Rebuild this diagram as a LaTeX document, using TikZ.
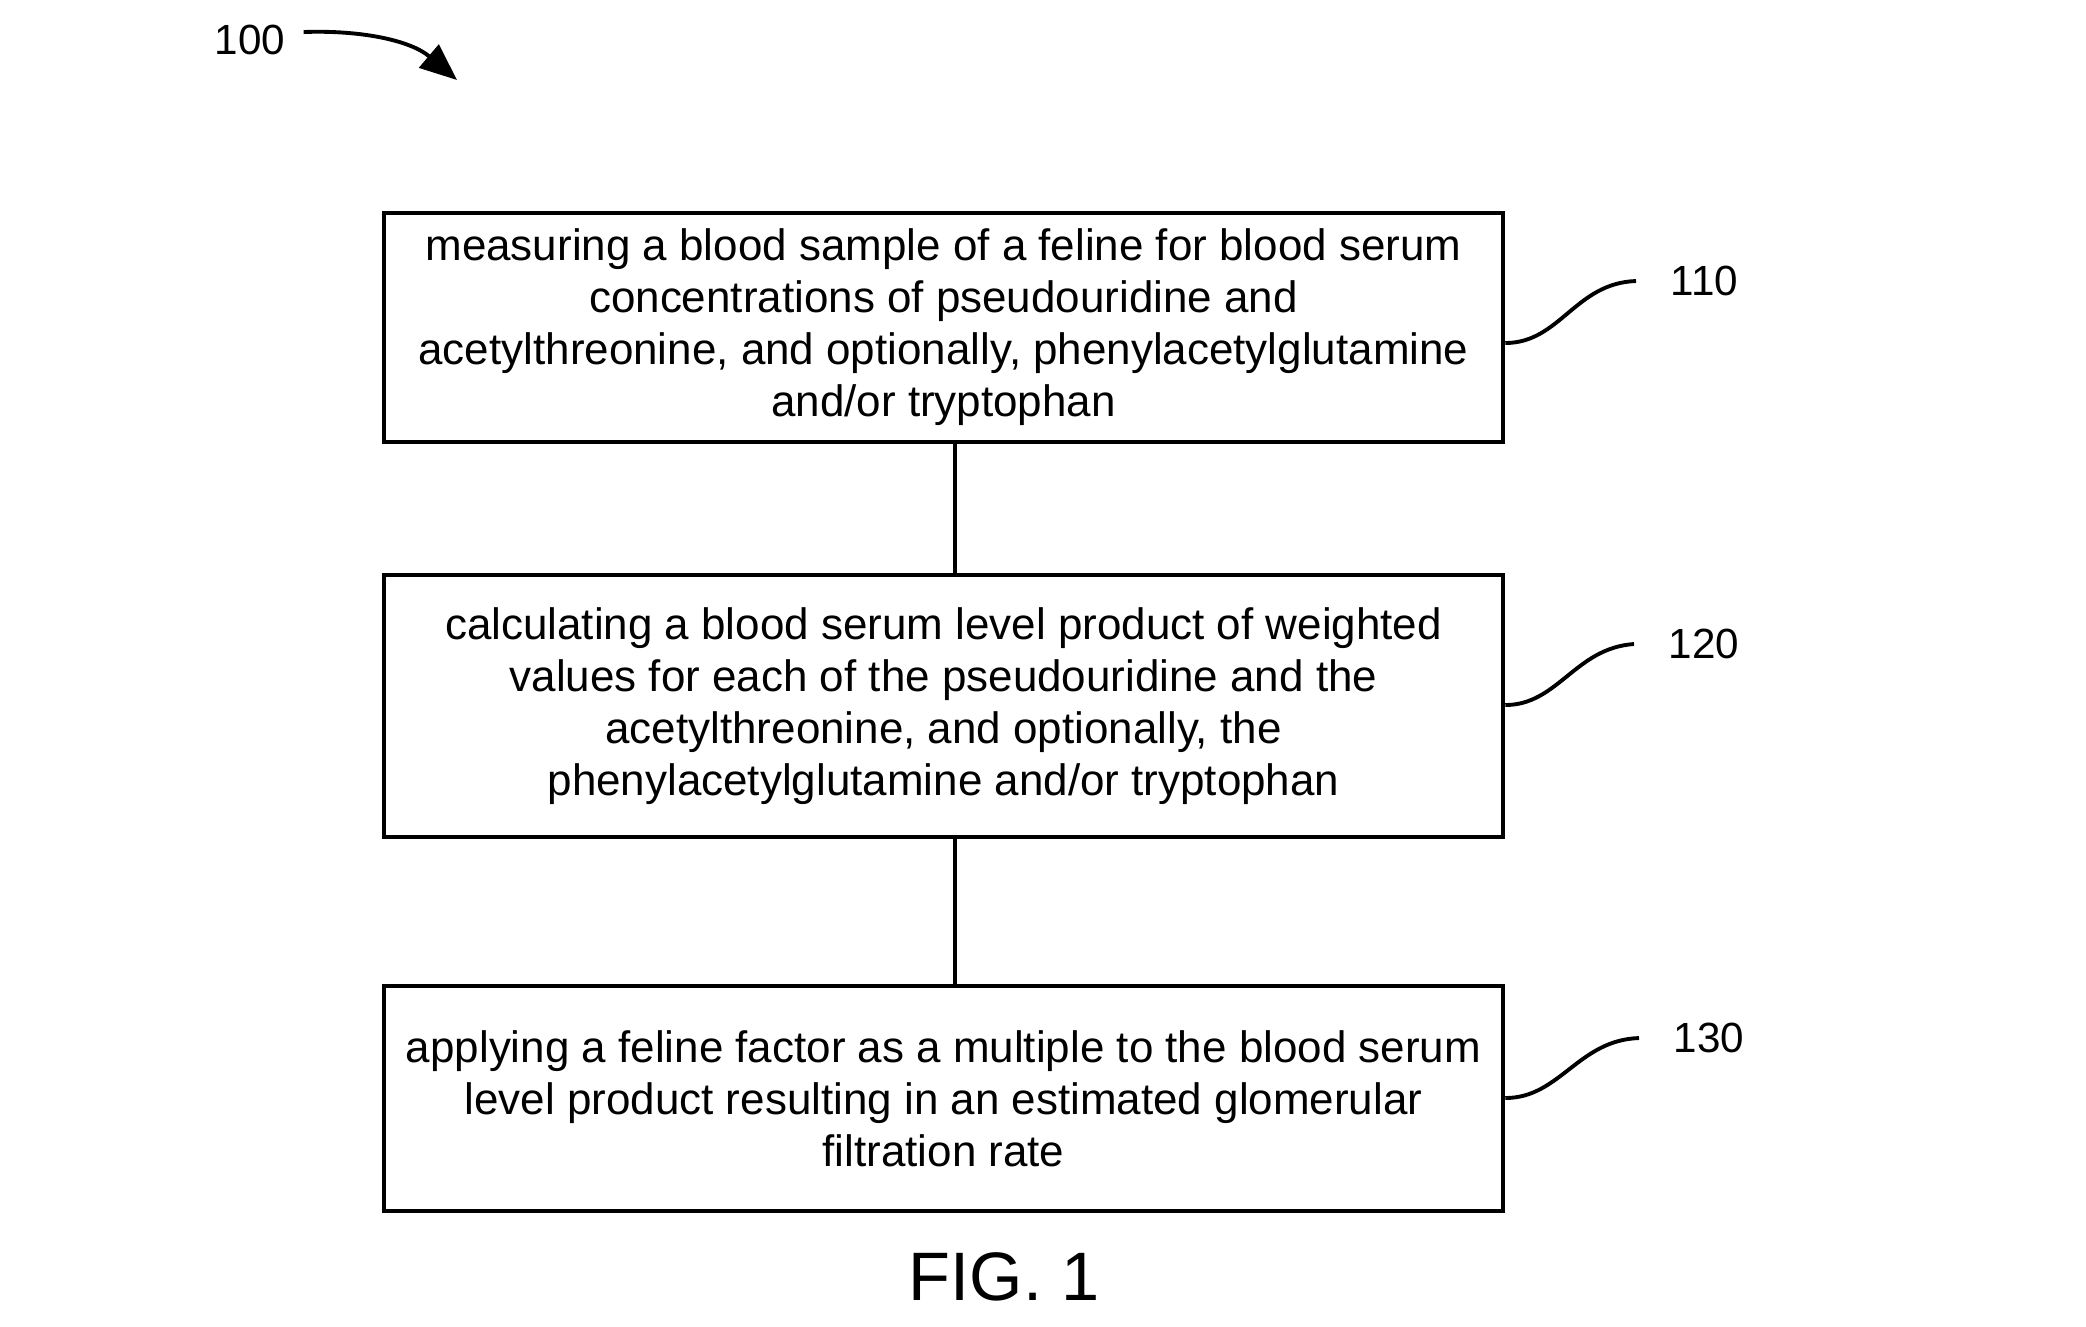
\documentclass[tikz,border=0pt]{standalone}
\usepackage{fontspec}
\setmainfont{Liberation Sans}
\usetikzlibrary{positioning,arrows.meta,calc}

\begin{document}
\begin{tikzpicture}[
  x=0.01cm, y=-0.01cm,
  >={Triangle[length=3.7mm, width=3mm]},
  stepbox/.style={draw, line width=1.1pt, minimum width=11.19cm, align=center, font=\fontsize{12.5}{14.8}\selectfont, inner sep=0pt},
  leader/.style={line width=1.1pt},
  refnum/.style={font=\fontsize{12}{14}\selectfont, anchor=west, inner xsep=0.34cm}
]
\useasboundingbox (0,0) rectangle (2086,1326);

\node[stepbox, minimum height=2.29cm] (S110) at (943.5,327.5) {measuring a blood sample of a feline for blood serum\\concentrations of pseudouridine and\\acetylthreonine, and optionally, phenylacetylglutamine\\and/or tryptophan};
\node[stepbox, minimum height=2.62cm] (S120) at (943.5,706) {calculating a blood serum level product of weighted\\values for each of the pseudouridine and the\\acetylthreonine, and optionally, the\\phenylacetylglutamine and/or tryptophan};
\node[stepbox, minimum height=2.25cm] (S130) at (943.5,1098.5) {applying a feline factor as a multiple to the blood serum\\level product resulting in an estimated glomerular\\filtration rate};

% connectors between steps
\draw[leader] (S110.south -| 955,0) -- (S120.north -| 955,0);
\draw[leader] (S120.south -| 955,0) -- (S130.north -| 955,0);

% reference numerals
\node[refnum] (L110) at (1636,281) {110};
\node[refnum] (L120) at (1634,644) {120};
\node[refnum] (L130) at (1639,1038) {130};
\draw[leader] (S110.east |- 0,343) .. controls (1560,343) and (1575,283) .. (L110.west);
\draw[leader] (S120.east |- 0,705) .. controls (1558,705) and (1575,648) .. (L120.west);
\draw[leader] (S130.east |- 0,1098) .. controls (1560,1098) and (1578,1040) .. (L130.west);

\node[font=\fontsize{12}{14}\selectfont] (L100) at (250,40) {100};
\coordinate (A100) at (457,80);
\draw[->, leader] (L100.east) ++(6,-8) .. controls (360,30) and (410,40) .. (A100);

\node[font=\fontsize{19.5}{22}\selectfont] (fig) at (1004,1277) {FIG. 1};
\end{tikzpicture}
\end{document}
